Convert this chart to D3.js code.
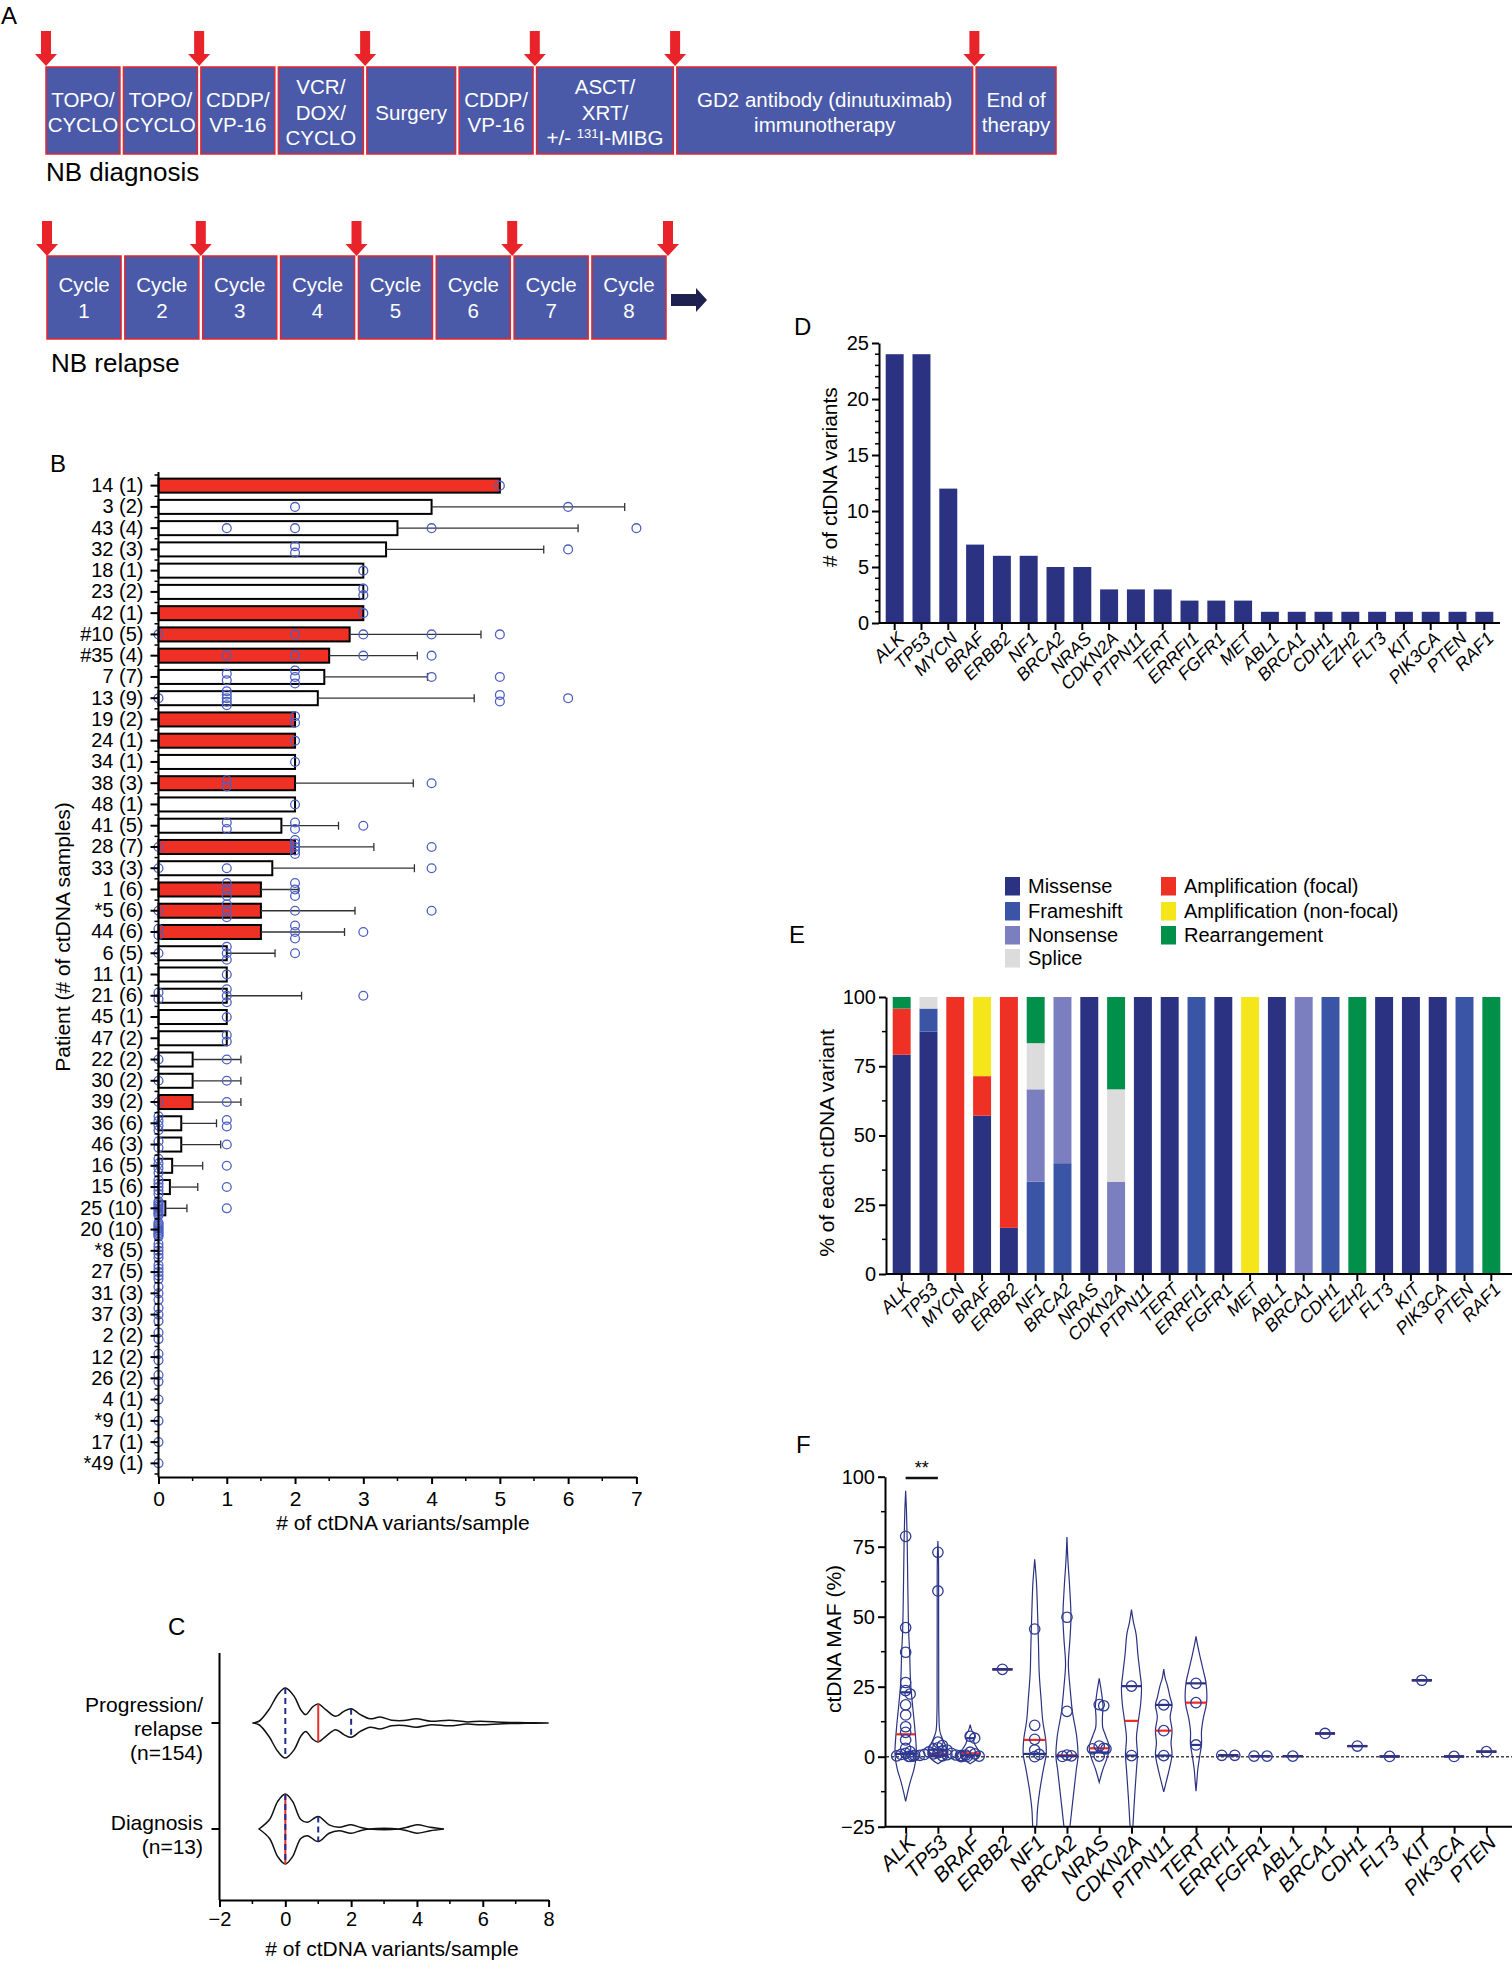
<!DOCTYPE html>
<html><head><meta charset="utf-8"><title>ctDNA figure</title>
<script src="https://cdn.jsdelivr.net/npm/d3@7"></script>
<style>html,body{margin:0;padding:0;background:#fff}svg{display:block}</style>
</head><body>
<svg id="fig" width="1512" height="1964" xmlns="http://www.w3.org/2000/svg"></svg>
<script>
// ================= DATA =================
// Panel A – treatment schema
const diagnosisSteps = [["TOPO/","CYCLO"],["TOPO/","CYCLO"],["CDDP/","VP-16"],["VCR/","DOX/","CYCLO"],["Surgery"],["CDDP/","VP-16"],["ASCT/","XRT/","+/- {131}I-MIBG"],["GD2 antibody (dinutuximab)","immunotherapy"],["End of","therapy"]];
const diagnosisWeights = [1,1,1,1.15,1.2,1,1.85,4,1.08];
const diagnosisArrowBefore = [0,2,4,6,7,8];
const relapseCycles = [["Cycle","1"],["Cycle","2"],["Cycle","3"],["Cycle","4"],["Cycle","5"],["Cycle","6"],["Cycle","7"],["Cycle","8"]];
const relapseArrowBefore = [0,2,4,6,8];

// Panel B – variants per sample, per patient
const patients = ["14 (1)","3 (2)","43 (4)","32 (3)","18 (1)","23 (2)","42 (1)","#10 (5)","#35 (4)","7 (7)","13 (9)","19 (2)","24 (1)","34 (1)","38 (3)","48 (1)","41 (5)","28 (7)","33 (3)","1 (6)","*5 (6)","44 (6)","6 (5)","11 (1)","21 (6)","45 (1)","47 (2)","22 (2)","30 (2)","39 (2)","36 (6)","46 (3)","16 (5)","15 (6)","25 (10)","20 (10)","*8 (5)","27 (5)","31 (3)","37 (3)","2 (2)","12 (2)","26 (2)","4 (1)","*9 (1)","17 (1)","*49 (1)"];
const patientSamples = [
  [5],[2,6],[1,2,4,7],[2,2,6],[3],[3,3],[3],[0,2,3,4,5],[1,2,3,4],[1,1,2,2,2,4,5],
  [0,1,1,1,1,1,5,5,6],[2,2],[2],[2],[1,1,4],[2],[1,1,2,2,3],[0,2,2,2,2,2,4],[0,1,4],[1,1,1,2,2,2],
  [0,1,1,1,2,4],[0,0,2,2,2,3],[0,1,1,1,2],[1],[0,0,1,1,1,3],[1],[1,1],[0,1],[0,1],[0,1],
  [0,0,0,0,1,1],[0,0,1],[0,0,0,0,1],[0,0,0,0,0,1],[0,0,0,0,0,0,0,0,0,1],[0,0,0,0,0,0,0,0,0,0],
  [0,0,0,0,0],[0,0,0,0,0],[0,0,0],[0,0,0],[0,0],[0,0],[0,0],[0],[0],[0],[0]
];
const highlightedPatients = ["14 (1)","42 (1)","#10 (5)","#35 (4)","19 (2)","24 (1)","38 (3)","28 (7)","1 (6)","*5 (6)","44 (6)","39 (2)"];
const bTicks = [0,1,2,3,4,5,6,7];

// Panel C – violin of variants/sample
const cGroups = ["Progression/relapse","Diagnosis"];
const cGroupLabels = [["Progression/","relapse","(n=154)"],["Diagnosis","(n=13)"]];
const progressionDensity = [[-1.0,0],[-0.8,0.05],[-0.5,0.38],[-0.23,0.81],[0,1],[0.27,0.76],[0.47,0.38],[0.62,0.24],[0.83,0.46],[1,0.54],[1.23,0.38],[1.53,0.19],[1.78,0.33],[2,0.41],[2.28,0.24],[2.58,0.12],[2.88,0.17],[3.23,0.08],[3.6,0.07],[3.98,0.12],[4.43,0.05],[4.98,0.08],[5.53,0.03],[5.93,0.05],[6.63,0.02],[7.3,0.01],[8,0]];
const diagnosisDensity = [[-0.8,0],[-0.48,0.27],[-0.23,0.79],[0,1],[0.22,0.79],[0.47,0.27],[0.67,0.19],[1,0.36],[1.33,0.12],[1.63,0.05],[2,0.12],[2.3,0.04],[2.54,0],[3.44,0],[3.7,0.05],[4,0.12],[4.4,0.05],[4.82,0]];
const cMedian = [1,0];
const cQ1 = [0,0];
const cQ3 = [2,1];
const cTicks = [-2,0,2,4,6,8];

// Panel D – variants per gene
const genesD = ["ALK","TP53","MYCN","BRAF","ERBB2","NF1","BRCA2","NRAS","CDKN2A","PTPN11","TERT","ERRFI1","FGFR1","MET","ABL1","BRCA1","CDH1","EZH2","FLT3","KIT","PIK3CA","PTEN","RAF1"];
const variantCounts = [24,24,12,7,6,6,5,5,3,3,3,2,2,2,1,1,1,1,1,1,1,1,1];
const dTicks = [0,5,10,15,20,25];

// Panel E – variant type composition (counts per gene)
const variantTypes = ["Missense","Frameshift","Nonsense","Splice","Amplification (focal)","Amplification (non-focal)","Rearrangement"];
const missense    = [19,21,0,4,1,0,0,5,0,3,3,0,2,0,1,0,0,0,1,1,1,0,0];
const frameshift  = [0,2,0,0,0,2,2,0,0,0,0,2,0,0,0,0,1,0,0,0,0,1,0];
const nonsense    = [0,0,0,0,0,2,3,0,1,0,0,0,0,0,0,1,0,0,0,0,0,0,0];
const splice      = [0,1,0,0,0,1,0,0,1,0,0,0,0,0,0,0,0,0,0,0,0,0,0];
const ampFocal    = [4,0,12,1,5,0,0,0,0,0,0,0,0,0,0,0,0,0,0,0,0,0,0];
const ampNonFocal = [0,0,0,2,0,0,0,0,0,0,0,0,0,2,0,0,0,0,0,0,0,0,0];
const rearrangement = [1,0,0,0,0,1,0,0,1,0,0,0,0,0,0,0,0,1,0,0,0,0,1];
const eTicks = [0,25,50,75,100];

// Panel F – ctDNA MAF (%) per gene
const genesF = ["ALK","TP53","BRAF","ERBB2","NF1","BRCA2","NRAS","CDKN2A","PTPN11","TERT","ERRFI1","FGFR1","ABL1","BRCA1","CDH1","FLT3","KIT","PIK3CA","PTEN"];
const mafPoints = [
  [78.7,46.1,37.3,26.5,23.6,22.4,18.5,14.9,10.7,8.7,6.0,3.0,1.8,1.2,0.8,0.5,0.3,0.1],
  [73.0,59.2,5.2,4.0,3.2,2.8,2.4,2.0,1.7,1.4,1.2,1.0,0.8,0.7,0.6,0.5,0.4,0.3,0.2,0.2,0.1,0.1],
  [7.3,6.6,1.6,1.0,0.6,0.2,0.0],
  [31.2],
  [45.6,11.2,6.2,2.4,0.8,0.0],
  [49.8,16.2,0.6,0.3,0.1],
  [18.6,18.2,3.8,3.0,2.8,2.8,0.2],
  [25.2,0.4],
  [18.5,9.3,0.4],
  [26.2,19.3,4.2],
  [0.5,0.5],[0.2,0.2],[0.2],[8.3],[3.8],[0.1],[27.3],[0.1],[1.8]
];
// violin half-width profiles (value, relative density)
const mafViolin = [
  [[95,0],[88,0.8],[78,1.5],[60,2.2],[45,3],[37,4],[26,5],[18,7],[10,9.2],[3,10.6],[0,10.5],[-4.5,8.3],[-9,4.6],[-13,1.8],[-16,0]],
  [[77,0],[70,0.6],[50,0.7],[30,0.8],[15,1],[9,2],[6,5],[3,9],[1,10],[-1,6],[-2.5,0]],
  [[11.5,0],[9.5,1.5],[7.5,4.5],[5.5,3.5],[3,7],[1.5,10],[0,9],[-1.3,5],[-2.5,0]],
  null,
  [[70.5,0],[62,1.8],[50,3],[40,3.8],[30,4.5],[20,6.5],[13,8],[6,11],[1,11.5],[-4.5,8.7],[-11.6,5.3],[-18.8,2.8],[-25,2],[-30,1],[-34,0]],
  [[78.5,0],[70,1],[60,2.8],[50,4],[42,3],[33,1.4],[25,3],[16,5.5],[7,9.8],[0,11],[-4.5,9.4],[-14,6.4],[-25,3],[-32,1.2],[-36,0]],
  [[28,0],[25,1.4],[21,3],[18,3.8],[14,3.2],[10.5,3.5],[7.5,6.4],[3.5,10],[0,8.3],[-4.5,3.7],[-9.2,0]],
  [[52.5,0],[48,2],[43.8,4.6],[36.6,6.4],[30,8.5],[25,10],[19,9.2],[12.8,6.9],[6.8,5],[0.8,6],[-4.5,5],[-14,3.2],[-25,1.4],[-32,0.5],[-35,0]],
  [[31.3,0],[28,1.5],[25.4,3.7],[21,6.5],[18.5,8.3],[14.3,6.4],[9.5,8.3],[4.8,7.3],[0.8,8.3],[-4.5,5.5],[-9.2,2.3],[-12.6,0]],
  [[43,0],[40,1.5],[36.3,3.7],[30.7,7.3],[26.4,10],[19.3,10.6],[13.8,7.3],[9.1,5.5],[4.3,5.5],[0.2,3.7],[-4.5,1.8],[-9,0.8],[-12.3,0]],
  null,null,null,null,null,null,null,null,null
];
const fMedian = [8.0,1.0,1.2,31.2,6.0,0.5,3.0,12.8,9.3,19.3,0.5,0.2,0.2,8.3,3.8,0.1,27.3,0.1,1.8];
const fQ1 = [1.0,0.3,0.5,31.2,1.0,0.2,1.5,0.4,0.4,4.2,0.5,0.2,0.2,8.3,3.8,0.1,27.3,0.1,1.8];
const fQ3 = [23.0,2.5,6.6,31.2,null,null,null,25.2,18.5,26.2,0.5,0.2,0.2,8.3,3.8,0.1,27.3,0.1,1.8];
const fTicks = [-25,0,25,50,75,100];
const fSignificance = {from:"ALK", to:"TP53", label:"**"};

// ================= DRAWING =================
const FONT = '"Liberation Sans", Arial, Helvetica, sans-serif';
const NAVY = "#2b3282", RED = "#ee3124", BOXBLUE = "#4a5aa8", ARROWRED = "#e8242a";
const PT_B = "#4c5fc4", PT_F = "#2e3a94";
const typeColors = ["#2b3282","#3b55a6","#7b7fbf","#dcdcdc","#ee3124","#f4e61a","#00904a"];
const svg = d3.select("#fig");

function txt(g, x, y, s, size, opts={}) {
  const t = g.append("text").attr("x",x).attr("y",y).attr("font-family",FONT).attr("font-size",size).attr("fill",opts.fill||"#000").text(s);
  if (opts.anchor) t.attr("text-anchor",opts.anchor);
  return t;
}
function styleAxis(g, fs) {
  g.attr("font-family",FONT).attr("font-size",fs);
  g.select(".domain").attr("stroke","#000").attr("stroke-width",2);
  g.selectAll(".tick line").attr("stroke","#000").attr("stroke-width",2);
  g.selectAll(".tick text").attr("fill","#000");
}
function rotTitle(g, x, y, s, size) {
  g.append("text").attr("transform",`translate(${x},${y}) rotate(-90)`).attr("text-anchor","middle").attr("dy","0.35em")
    .attr("font-family",FONT).attr("font-size",size).text(s);
}
function widthAt(profile, v) {
  const p = profile.slice().sort((a,b)=>a[0]-b[0]);
  if (v <= p[0][0]) return p[0][1];
  if (v >= p[p.length-1][0]) return p[p.length-1][1];
  for (let i=1;i<p.length;i++) if (v <= p[i][0]) {
    const t = (v-p[i-1][0])/(p[i][0]-p[i-1][0]);
    return p[i-1][1] + t*(p[i][1]-p[i-1][1]);
  }
  return 0;
}
const fmtInt = d3.format("d");

// ---------- Panel A ----------
const gA = svg.append("g");
txt(gA, 1, 24, "A", 24);
function boxLayout(weights, x0, x1, gap) {
  const n = weights.length, total = d3.sum(weights);
  const s = d3.scaleLinear([0,total],[x0, x1 - gap*(n-1)]);
  let cum = 0;
  return weights.map((w,i)=>{ const b = {left:s(cum)+gap*i, right:s(cum+w)+gap*i}; cum += w; return b; });
}
function redArrow(g, cx, yTop, yTip) {
  const sw=5, hw=11, hh=12;
  g.append("path").attr("d",`M${cx-sw},${yTop}H${cx+sw}V${yTip-hh}H${cx+hw}L${cx},${yTip}L${cx-hw},${yTip-hh}H${cx-sw}Z`).attr("fill",ARROWRED);
}
function boxText(g, lines, cx, cy) {
  const lh = 25.5;
  lines.forEach((ln,k)=>{
    const t = g.append("text").attr("x",cx).attr("y",cy + (k-(lines.length-1)/2)*lh + 7.5)
      .attr("text-anchor","middle").attr("fill","#fff").attr("font-size",20.5).attr("font-family",FONT);
    const m = ln.match(/^(.*)\{(.+)\}(.*)$/);
    if (m) {
      t.append("tspan").text(m[1]);
      t.append("tspan").attr("font-size",13).attr("dy",-7).text(m[2]);
      t.append("tspan").attr("dy",7).text(m[3]);
    } else t.text(ln);
  });
}
const row1 = boxLayout(diagnosisWeights, 46, 1056, 3.5);
const r1Top = 67, r1Bot = 154;
row1.forEach((b,i)=>{
  gA.append("rect").attr("x",b.left).attr("y",r1Top).attr("width",b.right-b.left).attr("height",r1Bot-r1Top)
    .attr("fill",BOXBLUE).attr("stroke",ARROWRED).attr("stroke-width",1.5);
  boxText(gA, diagnosisSteps[i], (b.left+b.right)/2, (r1Top+r1Bot)/2 + 1.5);
});
diagnosisArrowBefore.forEach(i=>{
  const cx = i===0 ? row1[0].left : row1[i].left - 1.75;
  redArrow(gA, cx, 31, 66);
});
txt(gA, 46, 181, "NB diagnosis", 26);

const row2 = boxLayout(relapseCycles.map(()=>1), 47, 666, 3.8);
const r2Top = 256, r2Bot = 339;
row2.forEach((b,i)=>{
  gA.append("rect").attr("x",b.left).attr("y",r2Top).attr("width",b.right-b.left).attr("height",r2Bot-r2Top)
    .attr("fill",BOXBLUE).attr("stroke",ARROWRED).attr("stroke-width",1.5);
  boxText(gA, relapseCycles[i], (b.left+b.right)/2, (r2Top+r2Bot)/2);
});
relapseArrowBefore.forEach(i=>{
  const n = row2.length;
  const cx = i===0 ? row2[0].left : (i===n ? row2[n-1].right + 2 : row2[i].left - 1.9);
  redArrow(gA, cx, 221, 256);
});
{
  const x0 = row2[row2.length-1].right + 5, x1 = x0 + 36, cy = 300;
  gA.append("path").attr("d",`M${x0},${cy-6}H${x1-11}V${cy-12}L${x1},${cy}L${x1-11},${cy+12}V${cy+6}H${x0}Z`).attr("fill","#1c2150");
}
txt(gA, 51, 372, "NB relapse", 26);

// ---------- Panel B ----------
const gB = svg.append("g");
txt(gB, 50, 472, "B", 24);
const bX = d3.scaleLinear([0,7],[158.5,636.4]);
const bY = d3.scaleBand(patients,[475,1474]).paddingInner(0.34).paddingOuter(0.17);
const bBW = bY.bandwidth(), bStep = bY.step();
const bAxisY = 1477;
patients.forEach((p,i)=>{
  const vals = patientSamples[i];
  const mean = d3.mean(vals), sd = vals.length>1 ? d3.deviation(vals) : 0;
  const y0 = bY(p), cy = y0 + bBW/2;
  if (mean > 0) gB.append("rect").attr("x",bX(0)).attr("y",y0).attr("width",bX(mean)-bX(0)).attr("height",bBW)
    .attr("fill", highlightedPatients.includes(p) ? RED : "#fff").attr("stroke","#000").attr("stroke-width",2);
  if (sd > 0) {
    gB.append("line").attr("x1",bX(mean)).attr("x2",bX(mean+sd)).attr("y1",cy).attr("y2",cy).attr("stroke","#333").attr("stroke-width",1.3);
    gB.append("line").attr("x1",bX(mean+sd)).attr("x2",bX(mean+sd)).attr("y1",cy-4).attr("y2",cy+4).attr("stroke","#333").attr("stroke-width",1.3);
  }
  const groups = d3.group(vals, v=>v);
  groups.forEach((arr,v)=>{
    const n = arr.length, sp = n>1 ? Math.min(6.5, 14/(n-1)) : 0;
    arr.forEach((_,k)=>{
      gB.append("circle").attr("cx",bX(v)).attr("cy",cy + (k-(n-1)/2)*sp).attr("r",4.4)
        .attr("fill","none").attr("stroke",PT_B).attr("stroke-width",1.3);
    });
  });
});
{
  const ax = gB.append("g").attr("transform",`translate(${bX(0)},0)`)
    .call(d3.axisLeft(bY).tickSize(8).tickPadding(7).tickSizeOuter(0));
  styleAxis(ax, 20);
  ax.select(".domain").remove();
  gB.append("line").attr("x1",bX(0)).attr("x2",bX(0)).attr("y1",472).attr("y2",bAxisY).attr("stroke","#000").attr("stroke-width",2);
  const firstC = bY(patients[0]) + bBW/2;
  for (let i=0;i<=patients.length;i++) {
    const y = firstC - bStep/2 + i*bStep;
    gB.append("line").attr("x1",bX(0)-4).attr("x2",bX(0)).attr("y1",y).attr("y2",y).attr("stroke","#000").attr("stroke-width",1.5);
  }
  const axx = gB.append("g").attr("transform",`translate(0,${bAxisY})`)
    .call(d3.axisBottom(bX).tickValues(bTicks).tickFormat(fmtInt).tickSize(7).tickPadding(7).tickSizeOuter(0));
  styleAxis(axx, 21);
  for (let v=0.5; v<7; v+=1) gB.append("line").attr("x1",bX(v)).attr("x2",bX(v)).attr("y1",bAxisY).attr("y2",bAxisY+4).attr("stroke","#000").attr("stroke-width",1.5);
  txt(gB, 403, 1530, "# of ctDNA variants/sample", 21, {anchor:"middle"});
  rotTitle(gB, 63, 937, "Patient (# of ctDNA samples)", 21);
}

// ---------- Panel C ----------
const gC = svg.append("g");
txt(gC, 168, 1635, "C", 24);
const cX = d3.scaleLinear([-2,8],[219.5,548.6]);
const cY = d3.scalePoint(cGroups,[1723,1829]);
const cW = d3.scaleLinear([0,1],[0,35]);
const cAxisY = 1900;
const cProfiles = [progressionDensity, diagnosisDensity];
cGroups.forEach((grp,i)=>{
  const cy = cY(grp), prof = cProfiles[i];
  const area = d3.area().x(d=>cX(d[0])).y0(d=>cy - cW(d[1])).y1(d=>cy + cW(d[1])).curve(d3.curveCatmullRom.alpha(0.5));
  gC.append("path").attr("d",area(prof)).attr("fill","none").attr("stroke","#111").attr("stroke-width",1.5);
  const vline = (v, color, dash) => {
    const w = cW(widthAt(prof, v));
    const l = gC.append("line").attr("x1",cX(v)).attr("x2",cX(v)).attr("y1",cy-w).attr("y2",cy+w).attr("stroke",color).attr("stroke-width",2);
    if (dash) l.attr("stroke-dasharray",dash);
  };
  vline(cMedian[i], "#e8302a", null);
  vline(cQ1[i], "#1f2d8a", "6,4");
  vline(cQ3[i], "#1f2d8a", "6,4");
  const lines = cGroupLabels[i];
  lines.forEach((ln,k)=>{
    txt(gC, 203, cy + 7 + (k-(lines.length-1)/2)*24 + 5.5, ln, 21, {anchor:"end"});
  });
  gC.append("line").attr("x1",cX(-2)-8).attr("x2",cX(-2)).attr("y1",cy).attr("y2",cy).attr("stroke","#000").attr("stroke-width",2);
});
{
  gC.append("line").attr("x1",cX(-2)).attr("x2",cX(-2)).attr("y1",1653).attr("y2",cAxisY).attr("stroke","#000").attr("stroke-width",2);
  const axx = gC.append("g").attr("transform",`translate(0,${cAxisY})`)
    .call(d3.axisBottom(cX).tickValues(cTicks).tickFormat(fmtInt).tickSize(7).tickPadding(5).tickSizeOuter(0));
  styleAxis(axx, 20);
  for (let v=-1; v<8; v+=2) gC.append("line").attr("x1",cX(v)).attr("x2",cX(v)).attr("y1",cAxisY).attr("y2",cAxisY+4).attr("stroke","#000").attr("stroke-width",1.5);
  txt(gC, 392, 1956, "# of ctDNA variants/sample", 21, {anchor:"middle"});
}

// ---------- Panel D ----------
const gD = svg.append("g");
txt(gD, 794, 335, "D", 24);
const dX = d3.scaleBand(genesD,[879,1500]).paddingInner(0.33).paddingOuter(0.25);
const dY = d3.scaleLinear([0,25],[623,343]);
genesD.forEach((g,i)=>{
  gD.append("rect").attr("x",dX(g)).attr("y",dY(variantCounts[i])).attr("width",dX.bandwidth()).attr("height",dY(0)-dY(variantCounts[i])).attr("fill",NAVY);
});
function geneAxis(g, scale, axisY, x0, x1, fs) {
  const ax = g.append("g").attr("transform",`translate(0,${axisY})`).call(d3.axisBottom(scale).tickSize(7).tickSizeOuter(0));
  styleAxis(ax, fs);
  ax.select(".domain").remove();
  ax.selectAll(".tick text").remove();
  g.append("line").attr("x1",x0).attr("x2",x1).attr("y1",axisY).attr("y2",axisY).attr("stroke","#000").attr("stroke-width",2);
  const off = scale.bandwidth ? scale.bandwidth()/2 : 0;
  scale.domain().forEach(name=>{
    const x = scale(name) + off;
    g.append("text").attr("transform",`translate(${x+6},${axisY+12}) rotate(-45)`).attr("text-anchor","end").attr("dy","0.35em")
      .attr("font-family",FONT).attr("font-size",fs).attr("font-style","italic").text(name);
  });
}
function valueAxis(g, scale, ticks, x, minorStep, fs) {
  const ax = g.append("g").attr("transform",`translate(${x},0)`).call(d3.axisLeft(scale).tickValues(ticks).tickFormat(fmtInt).tickSize(7).tickPadding(3).tickSizeOuter(0));
  styleAxis(ax, fs);
  const [d0,d1] = scale.domain();
  for (let v=d0; v<=d1+1e-9; v+=minorStep) {
    if (ticks.some(t=>Math.abs(t-v)<1e-9)) continue;
    g.append("line").attr("x1",x-4).attr("x2",x).attr("y1",scale(v)).attr("y2",scale(v)).attr("stroke","#000").attr("stroke-width",1.5);
  }
}
valueAxis(gD, dY, dTicks, 879, 1, 20);
geneAxis(gD, dX, 623, 879, 1500, 18);
rotTitle(gD, 830, 477, "# of ctDNA variants", 21);

// ---------- Panel E ----------
const gE = svg.append("g");
txt(gE, 789, 943, "E", 24);
const typeSeries = [missense, frameshift, nonsense, splice, ampFocal, ampNonFocal, rearrangement];
const eRows = genesD.map((g,i)=>{ const r={gene:g}; variantTypes.forEach((t,k)=>r[t]=typeSeries[k][i]); return r; });
const eStack = d3.stack().keys(variantTypes).offset(d3.stackOffsetExpand)(eRows);
const eX = d3.scaleBand(genesD,[886,1507]).paddingInner(0.33).paddingOuter(0.25);
const eY = d3.scaleLinear([0,100],[1274,997]);
eStack.forEach((layer,k)=>{
  layer.forEach(d=>{
    const h = eY(d[0]*100) - eY(d[1]*100);
    if (h <= 0.01) return;
    gE.append("rect").attr("x",eX(d.data.gene)).attr("y",eY(d[1]*100)).attr("width",eX.bandwidth()).attr("height",h).attr("fill",typeColors[k]);
  });
});
valueAxis(gE, eY, eTicks, 886, 12.5, 20);
geneAxis(gE, eX, 1274, 886, 1512, 18);
rotTitle(gE, 827, 1143, "% of each ctDNA variant", 21);
// legend
{
  const cols = [[0,1,2,3],[4,5,6]], colX = [1005,1161], rowY = [877,902,926,949];
  cols.forEach((idxs,c)=>idxs.forEach((k,r)=>{
    gE.append("rect").attr("x",colX[c]).attr("y",rowY[r]).attr("width",15).attr("height",18.5).attr("fill",typeColors[k]);
    txt(gE, colX[c]+23, rowY[r]+16, variantTypes[k], 20);
  }));
}

// ---------- Panel F ----------
const gF = svg.append("g");
txt(gF, 796, 1453, "F", 24);
const fX = d3.scalePoint(genesF,[885,1507]).padding(0.64);
const fY = d3.scaleLinear([-25,100],[1826.7,1476.7]);
const fW = d3.scaleLinear([0,10],[0,10]);
svg.append("defs").append("clipPath").attr("id","fclip").append("rect").attr("x",886).attr("y",1465).attr("width",626).attr("height",1826.7-1465);
gF.append("line").attr("x1",886).attr("x2",1512).attr("y1",fY(0)).attr("y2",fY(0)).attr("stroke","#444").attr("stroke-width",1.5).attr("stroke-dasharray","3,2");
const gFv = gF.append("g").attr("clip-path","url(#fclip)");
function swarm(vals, step, minD) {
  const pts = vals.map(v=>({v, y:fY(v)})).sort((a,b)=>a.y-b.y);
  const placed = [];
  pts.forEach(p=>{
    p.dx = 0;
    for (let k=0;k<30;k++) {
      const dx = k===0 ? 0 : (k%2 ? 1 : -1)*Math.ceil(k/2)*step;
      if (placed.every(q=>Math.hypot(q.dx-dx, q.y-p.y) >= minD)) { p.dx = dx; break; }
    }
    placed.push(p);
  });
  const byVal = d3.group(placed, p=>p.v);
  byVal.forEach(arr=>{ if (arr.length>1) { const m = d3.mean(arr, p=>p.dx); arr.forEach(p=>p.dx -= m); } });
  return placed;
}
genesF.forEach((g,i)=>{
  const cx = fX(g), prof = mafViolin[i];
  if (prof) {
    const area = d3.area().y(d=>fY(d[0])).x0(d=>cx - fW(d[1])).x1(d=>cx + fW(d[1])).curve(d3.curveCatmullRom.alpha(0.5));
    gFv.append("path").attr("d",area(prof)).attr("fill","none").attr("stroke",NAVY).attr("stroke-width",1.2);
  }
  const half = v => prof ? Math.max(4, fW(widthAt(prof, v))) : 10;
  const hline = (v, color) => {
    if (v === null || v === undefined) return;
    gFv.append("line").attr("x1",cx-half(v)).attr("x2",cx+half(v)).attr("y1",fY(v)).attr("y2",fY(v)).attr("stroke",color).attr("stroke-width",2.2);
  };
  hline(fMedian[i], "#ee2a24");
  hline(fQ1[i], NAVY);
  hline(fQ3[i], NAVY);
  const n = mafPoints[i].length;
  const pts = n <= 2 ? swarm(mafPoints[i], 13, 11) : swarm(mafPoints[i], 4.5, 4.5);
  pts.forEach(p=>{
    gFv.append("circle").attr("cx",cx+p.dx).attr("cy",p.y).attr("r",5.2).attr("fill","none").attr("stroke",PT_F).attr("stroke-width",1.3);
  });
});
valueAxis(gF, fY, fTicks, 885, 12.5, 20);
geneAxis(gF, fX, 1826.7, 885, 1512, 21);
rotTitle(gF, 834, 1639, "ctDNA MAF (%)", 21);
{
  const xa = fX(fSignificance.from), xb = fX(fSignificance.to), y = 1478;
  gF.append("line").attr("x1",xa).attr("x2",xb).attr("y1",y).attr("y2",y).attr("stroke","#111").attr("stroke-width",2.5);
  txt(gF, (xa+xb)/2, y-4, fSignificance.label, 18, {anchor:"middle"});
}
</script>
</body></html>
